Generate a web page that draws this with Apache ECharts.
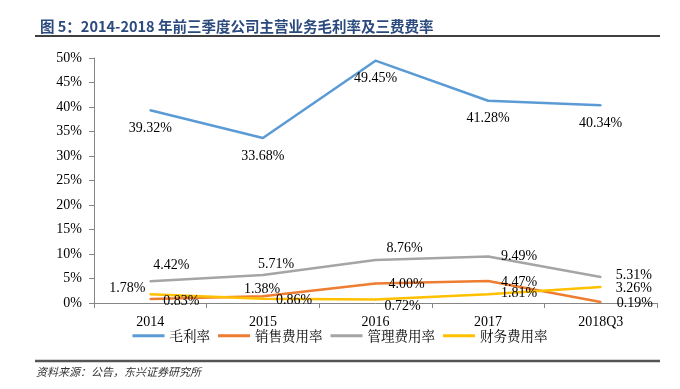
<!DOCTYPE html>
<html>
<head>
<meta charset="utf-8">
<script src="https://cdn.jsdelivr.net/npm/echarts@6/dist/echarts.min.js"></script>
<style>html,body{margin:0;padding:0;background:#fff}#c{width:680px;height:389px}</style>
</head>
<body>
<div id="c"></div>
<script>
const categories = ['2014', '2015', '2016', '2017', '2018Q3'];
const seriesNames = ['毛利率', '销售费用率', '管理费用率', '财务费用率'];
const grossMargin = [39.32, 33.68, 49.45, 41.28, 40.34];
const salesRate = [0.83, 1.38, 4.00, 4.47, 0.19];
const adminRate = [4.42, 5.71, 8.76, 9.49, 5.31];
const financeRate = [1.78, 0.86, 0.72, 1.81, 3.26];
const yTicks = [0, 5, 10, 15, 20, 25, 30, 35, 40, 45, 50];
const colors = ['#5B9BD5', '#ED7D31', '#A5A5A5', '#FFC000'];

// label nudges (style only), per series per point
const labelOffsets = {
  sales:   [[12, 2], [-20, -7], [12, 1], [12, 1], [15, 1]],
  admin:   [[2, -16], [-6, -11], [10, -12], [12, 0], [14, -2]],
  finance: [[-42, -6], [12, 2], [8, 7], [12, -1], [14, 1]]
};

const serif = '"Liberation Serif", "Times New Roman", serif';
const labelBase = { show: true, color: '#000', fontFamily: serif, fontSize: 14,
  formatter: p => p.value.toFixed(2) + '%' };

function mk(values, offs) {
  return values.map((v, i) => ({ value: v,
    label: { position: 'right', distance: 0, offset: offs[i] } }));
}

const chart = echarts.init(document.getElementById('c'), null, { renderer: 'canvas' });
chart.setOption({
  animation: false,
  backgroundColor: '#fff',
  title: {
    text: '图 5：2014-2018 年前三季度公司主营业务毛利率及三费费率',
    left: 35, top: 14,
    textStyle: { fontSize: 14.5, fontWeight: 'bold', color: '#2B4A7E',
      fontFamily: '"Noto Sans CJK SC", "Liberation Sans", sans-serif' }
  },
  graphic: [
    { type: 'line', shape: { x1: 35, y1: 36, x2: 660, y2: 36 }, style: { stroke: '#000', lineWidth: 1.5 } },
    { type: 'line', shape: { x1: 35, y1: 361, x2: 660, y2: 361 }, style: { stroke: '#555', lineWidth: 2.5 } },
    { type: 'text', left: 36, top: 366, style: { text: '资料来源：公告，东兴证券研究所',
      font: 'italic 11px "Noto Sans CJK SC"', fill: '#333' } }
  ],
  color: colors,
  legend: {
    data: seriesNames, top: 324, left: 'center',
    icon: 'rect', itemWidth: 32, itemHeight: 3, itemGap: 8,
    textStyle: { fontSize: 13.5, color: '#000', fontFamily: '"Noto Serif CJK SC", "Noto Sans CJK SC", serif' }
  },
  grid: { left: 94, right: 23, top: 58, bottom: 86 },
  xAxis: {
    type: 'category', data: categories, boundaryGap: true,
    axisLine: { lineStyle: { color: '#868686', width: 1 } },
    axisTick: { show: true, length: 5, lineStyle: { color: '#868686' } },
    axisLabel: { color: '#000', fontFamily: serif, fontSize: 14, margin: 12 }
  },
  yAxis: {
    type: 'value', min: yTicks[0], max: yTicks[yTicks.length - 1], interval: yTicks[1] - yTicks[0],
    axisLine: { show: true, lineStyle: { color: '#868686', width: 1 } },
    axisTick: { show: true, length: 5, lineStyle: { color: '#868686' } },
    splitLine: { show: false },
    axisLabel: { color: '#000', fontFamily: serif, fontSize: 14, margin: 12,
      formatter: v => v + '%' }
  },
  series: [
    { name: seriesNames[0], type: 'line', data: grossMargin, symbol: 'circle', symbolSize: 2,
      lineStyle: { width: 2.5 }, label: Object.assign({}, labelBase, { position: 'bottom', distance: 10 }) },
    { name: seriesNames[1], type: 'line', data: mk(salesRate, labelOffsets.sales), symbol: 'circle', symbolSize: 2,
      lineStyle: { width: 2.5 }, label: labelBase },
    { name: seriesNames[2], type: 'line', data: mk(adminRate, labelOffsets.admin), symbol: 'circle', symbolSize: 2,
      lineStyle: { width: 2.5 }, label: labelBase },
    { name: seriesNames[3], type: 'line', data: mk(financeRate, labelOffsets.finance), symbol: 'circle', symbolSize: 2,
      lineStyle: { width: 2.5 }, label: labelBase }
  ]
});
</script>
</body>
</html>
